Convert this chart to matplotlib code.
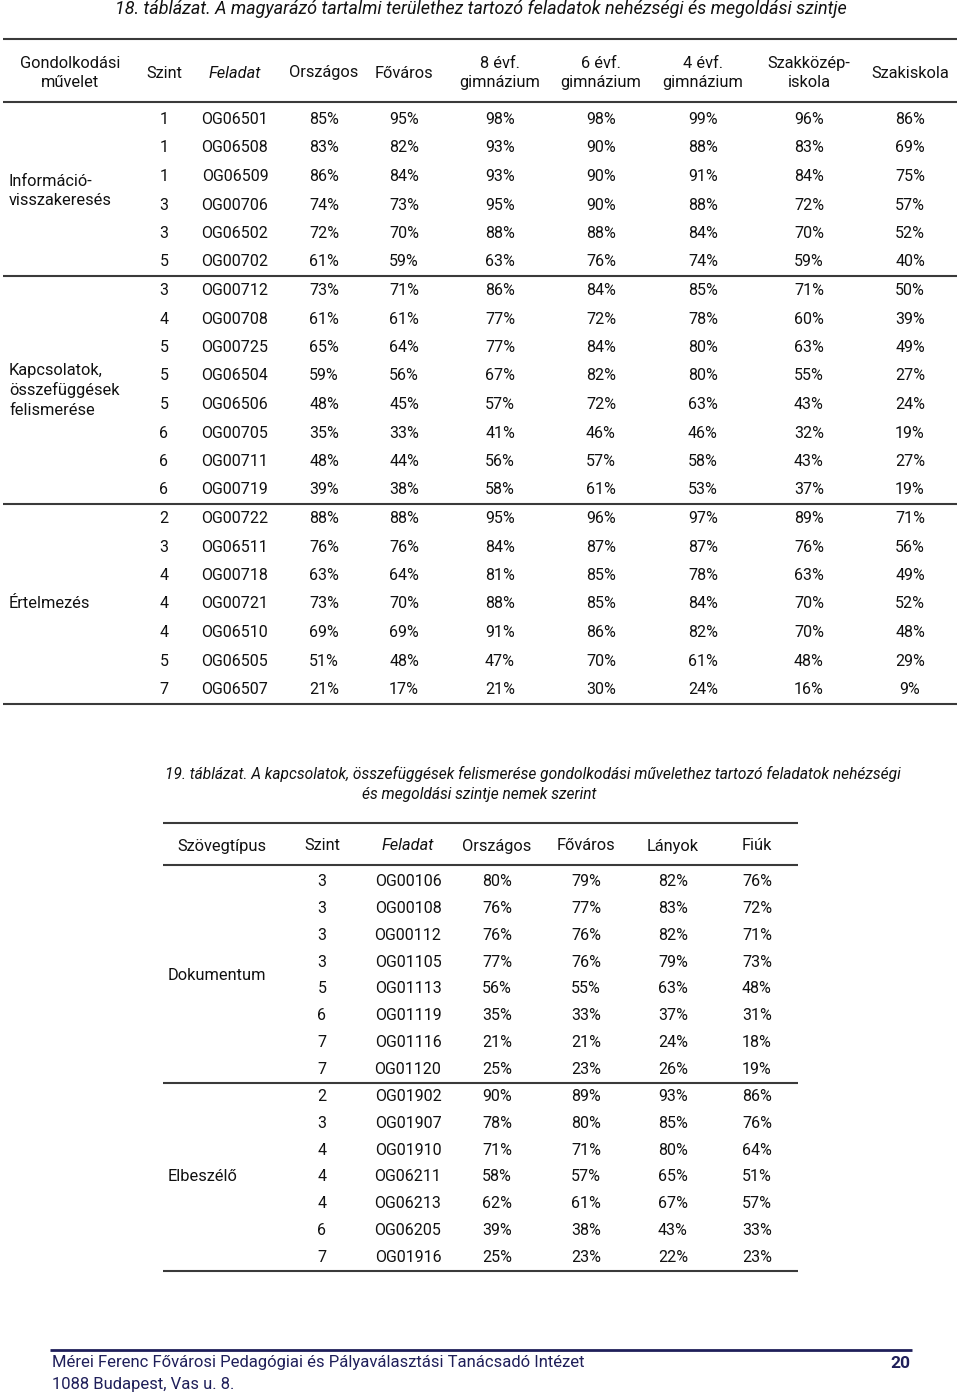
import matplotlib.pyplot as plt

plt.rcParams['font.family'] = ['Roboto', 'DejaVu Sans']

# 18. táblázat
t1_muvelet = ['Információ-\nvisszakeresés', 'Kapcsolatok,\nösszefüggések\nfelismerése', 'Értelmezés']
t1_csoport_db = [6, 8, 7]
t1_szint = [1, 1, 1, 3, 3, 5, 3, 4, 5, 5, 5, 6, 6, 6, 2, 3, 4, 4, 4, 5, 7]
t1_feladat = ['OG06501', 'OG06508', 'OG06509', 'OG00706', 'OG06502', 'OG00702',
              'OG00712', 'OG00708', 'OG00725', 'OG06504', 'OG06506', 'OG00705', 'OG00711', 'OG00719',
              'OG00722', 'OG06511', 'OG00718', 'OG00721', 'OG06510', 'OG06505', 'OG06507']
t1_orszagos = [85, 83, 86, 74, 72, 61, 73, 61, 65, 59, 48, 35, 48, 39, 88, 76, 63, 73, 69, 51, 21]
t1_fovaros = [95, 82, 84, 73, 70, 59, 71, 61, 64, 56, 45, 33, 44, 38, 88, 76, 64, 70, 69, 48, 17]
t1_gimn8 = [98, 93, 93, 95, 88, 63, 86, 77, 77, 67, 57, 41, 56, 58, 95, 84, 81, 88, 91, 47, 21]
t1_gimn6 = [98, 90, 90, 90, 88, 76, 84, 72, 84, 82, 72, 46, 57, 61, 96, 87, 85, 85, 86, 70, 30]
t1_gimn4 = [99, 88, 91, 88, 84, 74, 85, 78, 80, 80, 63, 46, 58, 53, 97, 87, 78, 84, 82, 61, 24]
t1_szakkozep = [96, 83, 84, 72, 70, 59, 71, 60, 63, 55, 43, 32, 43, 37, 89, 76, 63, 70, 70, 48, 16]
t1_szakiskola = [86, 69, 75, 57, 52, 40, 50, 39, 49, 27, 24, 19, 27, 19, 71, 56, 49, 52, 48, 29, 9]
t1_fejlec = ['Gondolkodási\nművelet', 'Szint', 'Feladat', 'Országos', 'Főváros',
             '8 évf.\ngimnázium', '6 évf.\ngimnázium', '4 évf.\ngimnázium',
             'Szakközép-\niskola', 'Szakiskola']

# 19. táblázat
t2_tipus = ['Dokumentum', 'Elbeszélő']
t2_csoport_db = [8, 7]
t2_szint = [3, 3, 3, 3, 5, 6, 7, 7, 2, 3, 4, 4, 4, 6, 7]
t2_feladat = ['OG00106', 'OG00108', 'OG00112', 'OG01105', 'OG01113', 'OG01119', 'OG01116', 'OG01120',
              'OG01902', 'OG01907', 'OG01910', 'OG06211', 'OG06213', 'OG06205', 'OG01916']
t2_orszagos = [80, 76, 76, 77, 56, 35, 21, 25, 90, 78, 71, 58, 62, 39, 25]
t2_fovaros = [79, 77, 76, 76, 55, 33, 21, 23, 89, 80, 71, 57, 61, 38, 23]
t2_lanyok = [82, 83, 82, 79, 63, 37, 24, 26, 93, 85, 80, 65, 67, 43, 22]
t2_fiuk = [76, 72, 71, 73, 48, 31, 18, 19, 86, 76, 64, 51, 57, 33, 23]
t2_fejlec = ['Szövegtípus', 'Szint', 'Feladat', 'Országos', 'Főváros', 'Lányok', 'Fiúk']

W, H = 960, 1393
fig = plt.figure(figsize=(W / 100, H / 100), dpi=100)
ax = fig.add_axes([0, 0, 1, 1])
ax.set_xlim(0, W)
ax.set_ylim(H, 0)
ax.axis('off')

FS = 11.5
FSH = 11.8
LC = '#3a3a3a'
LW = 1.5
TXT = '#111111'


def rule(x0, x1, y, color=LC, lw=LW):
    ax.plot([x0, x1], [y, y], color=color, lw=lw, solid_capstyle='butt')


def cell(x, y, s, ha='center', **kw):
    kw.setdefault('fontsize', FS)
    kw.setdefault('color', TXT)
    ax.text(x, y, s, ha=ha, va='center', **kw)


# ---------- table 18 ----------
cell(481, 9, '18. táblázat. A magyarázó tartalmi területhez tartozó feladatok nehézségi és megoldási szintje',
     fontsize=13, style='italic')

cx1 = [70, 164, 235, 324, 404, 500, 601, 703, 809, 910]
rule(3, 957, 39)
for x, lab in zip(cx1, t1_fejlec):
    cell(x, 73, lab, fontsize=FSH, linespacing=1.35,
         style='italic' if lab == 'Feladat' else 'normal')
rule(3, 957, 102)

y0, dy = 119.5, 28.5
cols1 = [t1_orszagos, t1_fovaros, t1_gimn8, t1_gimn6, t1_gimn4, t1_szakkozep, t1_szakiskola]
for i in range(len(t1_feladat)):
    y = y0 + i * dy
    cell(cx1[1], y, str(t1_szint[i]))
    cell(cx1[2], y, t1_feladat[i])
    for x, col in zip(cx1[3:], cols1):
        cell(x, y, f'{col[i]}%')

start = 0
for name, n in zip(t1_muvelet, t1_csoport_db):
    mid = y0 + (start + (n - 1) / 2) * dy
    cell(9, mid, name, ha='left', fontsize=FSH, linespacing=1.35)
    start += n
    rule(3, 957, y0 + (start - 0.5) * dy)

# ---------- table 19 ----------
cell(165, 774, '19. táblázat. A kapcsolatok, összefüggések felismerése gondolkodási művelethez tartozó feladatok nehézségi',
     ha='left', fontsize=11.2, style='italic')
cell(479, 795, 'és megoldási szintje nemek szerint', fontsize=11.2, style='italic')

cx2 = [222, 322, 408, 497, 586, 673, 757]
rule(163, 798, 823)
for x, lab in zip(cx2, t2_fejlec):
    cell(x, 846, lab, fontsize=FSH, style='italic' if lab == 'Feladat' else 'normal')
rule(163, 798, 865)

y0b, dyb = 881.5, 26.86
cols2 = [t2_orszagos, t2_fovaros, t2_lanyok, t2_fiuk]
for i in range(len(t2_feladat)):
    y = y0b + i * dyb
    cell(cx2[1], y, str(t2_szint[i]))
    cell(cx2[2], y, t2_feladat[i])
    for x, col in zip(cx2[3:], cols2):
        cell(x, y, f'{col[i]}%')

start = 0
for name, n in zip(t2_tipus, t2_csoport_db):
    mid = y0b + (start + (n - 1) / 2) * dyb
    cell(168, mid, name, ha='left', fontsize=FSH)
    start += n
    rule(163, 798, y0b + (start - 0.5) * dyb)

# ---------- footer ----------
NAVY = '#1f1f5a'
rule(50, 912, 1350, color=NAVY, lw=2)
cell(52, 1363, 'Mérei Ferenc Fővárosi Pedagógiai és Pályaválasztási Tanácsadó Intézet',
     ha='left', fontsize=12, color=NAVY)
cell(52, 1384, '1088 Budapest, Vas u. 8.', ha='left', fontsize=12, color=NAVY)
cell(910, 1363, '20', ha='right', fontsize=12.5, color=NAVY, fontweight='bold')

fig.savefig('out.png', dpi=100)
